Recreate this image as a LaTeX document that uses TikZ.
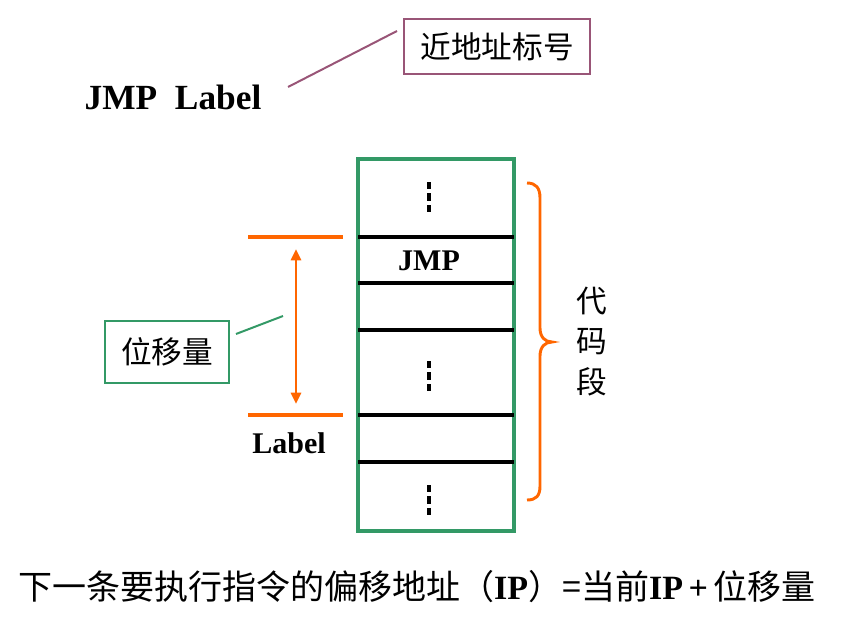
\documentclass[tikz,border=0pt]{standalone}
\usepackage{fontspec}
\setmainfont{Liberation Serif}
\newfontfamily\cjk{Noto Sans CJK SC}
\usetikzlibrary{arrows.meta}
\definecolor{stackgreen}{RGB}{51,153,102}
\definecolor{callpurple}{RGB}{153,85,119}
\definecolor{braceorange}{RGB}{255,102,0}
\tikzset{
  px/.style={x=0.75pt,y=-0.75pt},
  cell/.style={draw=black,line width=2.3pt},
  orangeline/.style={draw=braceorange,line width=2.4pt},
  dotbar/.style={fill=black,draw=none},
  cjktext/.style={font=\cjk\fontsize{23}{27}\selectfont,inner sep=0pt},
  bigbold/.style={font=\bfseries\fontsize{26.5}{31}\selectfont,inner sep=0pt},
  midbold/.style={font=\bfseries\fontsize{22.5}{27}\selectfont,inner sep=0pt},
}
\begin{document}
\begin{tikzpicture}[px]
\useasboundingbox (0,0) rectangle (848,641);
% title
\node[bigbold] (jmplabel) at (173,97) {JMP\hspace{0.5em}Label};
\node[draw=callpurple,line width=1.6pt,minimum width=139.5pt,minimum height=41.25pt,cjktext] (near) at (497,46.5) {近地址标号\hspace{10pt}};
\coordinate (c1a) at (288,87);
\coordinate (c1b) at (397,31);
\draw[callpurple,line width=1.5pt] (c1a) -- (c1b);
% stack
\node[draw=stackgreen,line width=2.3pt,minimum width=117pt,minimum height=279pt,inner sep=0pt] (stack) at (436,345) {};
\foreach \yy in {237,283,330,415,462} {
  \draw[cell] (358,\yy) -- (514,\yy);
}
\foreach \yc in {182,361,485} {
  \fill[dotbar] (427,\yc) rectangle (431,\yc+7);
  \fill[dotbar] (427,\yc+11) rectangle (431,\yc+19);
  \fill[dotbar] (427,\yc+23) rectangle (431,\yc+30);
}
\node[midbold] (jmp) at (429,261) {JMP};
% orange markers
\coordinate (o1a) at (248,237); \coordinate (o1b) at (343,237);
\coordinate (o2a) at (248,415); \coordinate (o2b) at (343,415);
\draw[orangeline] (o1a) -- (o1b);
\draw[orangeline] (o2a) -- (o2b);
\coordinate (arT) at (296,249);
\coordinate (arB) at (296,404);
\draw[braceorange,line width=2.2pt,{Triangle[length=8.5pt,width=7.5pt]}-{Triangle[length=8.5pt,width=7.5pt]}] (arT) -- (arB);
\node[midbold] (label) at (289,443) {Label};
% displacement callout
\node[draw=stackgreen,line width=1.6pt,minimum width=93pt,minimum height=46.5pt,cjktext] (disp) at (167,352) {位移量\hspace{10pt}};
\coordinate (c2a) at (236,334);
\coordinate (c2b) at (283,316);
\draw[stackgreen,line width=1.5pt] (c2a) -- (c2b);
% brace
\draw[braceorange,line width=2.2pt]
  (527,183) .. controls (536,183) and (540,188) .. (540,198) -- (540,328)
  .. controls (540,337) and (545,342) .. (552,342)
  .. controls (545,342) and (540,347) .. (540,356) -- (540,486)
  .. controls (540,496) and (536,500) .. (527,500);
\node[cjktext] (d1) at (592,301) {代};
\node[cjktext] (d2) at (592,342) {码};
\node[cjktext] (d3) at (592,382) {段};
% bottom formula
\node[inner sep=0pt,font=\fontsize{25.5}{30}\selectfont] (formula) at (417,587) {\cjk 下一条要执行指令的偏移地址（\textbf{\rmfamily IP}）=当前\textbf{\rmfamily IP}\,\textbf{\rmfamily +}\,位移量};
\end{tikzpicture}
\end{document}
